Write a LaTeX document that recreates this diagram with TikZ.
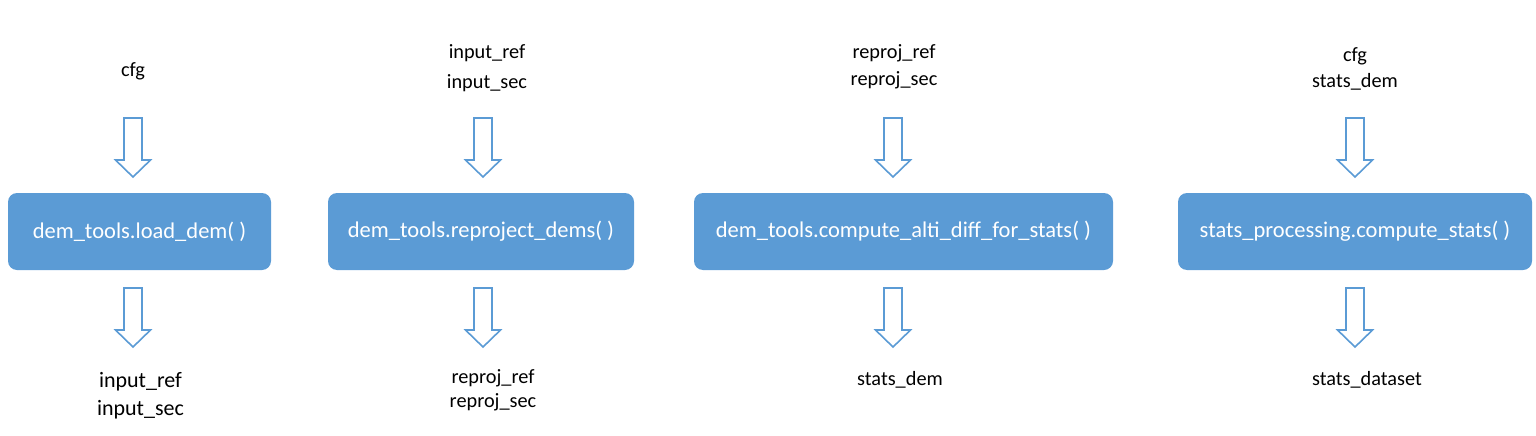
\documentclass[tikz,border=0pt]{standalone}
\usepackage{fontspec}
\setmainfont{Carlito}
\usetikzlibrary{positioning}
\definecolor{boxblue}{RGB}{91,155,213}

\tikzset{
  func/.style={rectangle, rounded corners=9pt, fill=boxblue, text=white,
    font=\fontsize{22.5}{27}\selectfont, minimum height=77pt, inner sep=0pt},
  lbl/.style={font=\fontsize{20.3}{#1}\selectfont, align=center, inner sep=0pt},
  lbl/.default=27,
  downarrow/.pic={
    \draw[boxblue, line width=1.6pt, fill=white]
      (-9,-29.5) -- (9,-29.5) -- (9,12.5) -- (17.5,12.5) -- (0,29.5)
      -- (-17.5,12.5) -- (-9,12.5) -- cycle;
  }
}

\begin{document}
\begin{tikzpicture}[x=1pt, y=-1pt]
  \useasboundingbox (0,0) rectangle (1536,436);

  % functions
  \node[func, minimum width=263pt] (load)    at (139.5,231.5) {dem\_tools.load\_dem( )};
  \node[func, minimum width=306pt] (reproj)  at (481,231.5)   {dem\_tools.reproject\_dems( )};
  \node[func, minimum width=419pt] (alti)    at (903.5,231.5) {dem\_tools.compute\_alti\_diff\_for\_stats( )};
  \node[func, minimum width=354pt] (stats)   at (1355,231.5)  {stats\_processing.compute\_stats( )};

  % inputs
  \node[lbl]     (loadin)   at (133,71)   {cfg};
  \node[lbl=30]  (reprojin) at (487,68)   {input\_ref\\input\_sec};
  \node[lbl=27]  (altiin)   at (894,66.5) {reproj\_ref\\reproj\_sec};
  \node[lbl=26]  (statsin)  at (1355,69)  {cfg\\stats\_dem};

  % outputs
  \node[lbl=28, font=\fontsize{22}{28}\selectfont] (loadout) at (140.5,396) {input\_ref\\input\_sec};
  \node[lbl=24]  (reprojout) at (493,390)  {reproj\_ref\\reproj\_sec};
  \node[lbl]     (altiout)   at (900,380)  {stats\_dem};
  \node[lbl]     (statsout)  at (1367,380) {stats\_dataset};

  % block arrows
  \pic at (133,147.5)  {downarrow};
  \pic at (483,147.5)  {downarrow};
  \pic at (893,147.5)  {downarrow};
  \pic at (1355,147.5) {downarrow};

  \pic at (133,317.5)  {downarrow};
  \pic at (483,317.5)  {downarrow};
  \pic at (893,317.5)  {downarrow};
  \pic at (1355,317.5) {downarrow};
\end{tikzpicture}
\end{document}
